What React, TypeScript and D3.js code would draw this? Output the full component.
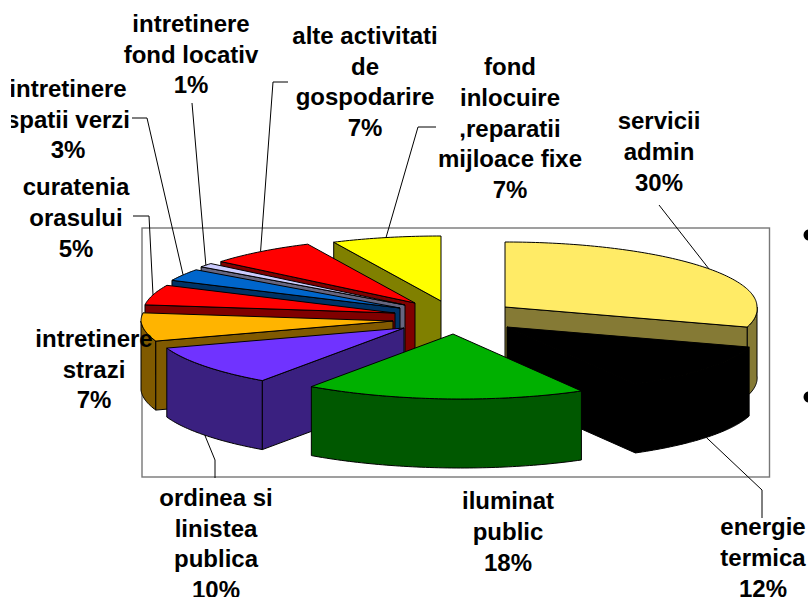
import React from "react";
import * as d3 from "d3";

const labels = [
  ["servicii", "admin", "30%"],
  ["energie", "termica", "12%"],
  ["iluminat", "public", "18%"],
  ["ordinea si", "linistea", "publica", "10%"],
  ["intretinere", "strazi", "7%"],
  ["curatenia", "orasului", "5%"],
  ["intretinere", "spatii verzi", "3%"],
  ["intretinere", "fond locativ", "1%"],
  ["alte activitati", "de", "gospodarire", "7%"],
  ["fond", "inlocuire", ",reparatii", "mijloace fixe", "7%"],
];
const values = [30, 12, 18, 10, 7, 5, 3, 1, 7, 7];
const topColors = ["#FFEB66", "#000000", "#00B000", "#7033FF", "#FFB400", "#FF0000", "#0066CC", "#CCCCFF", "#FF0000", "#FFFF00"];
const sideColors = ["#857A35", "#000000", "#005800", "#3A2080", "#805A00", "#800000", "#003366", "#666680", "#800000", "#808000"];
const explodeX = [0, 2, -52, -101, -112, -110, -105, -100, -90, -64];
const explodeY = [0, 20, 27, 21, 14, 6, 1, -2, -4, -6];
const drawOrder = [9, 8, 7, 6, 5, 4, 3, 0, 1, 2];

const labelCenterX = [659, 763, 508, 216, 94, 76, 68, 191, 365, 510];
const labelFirstY = [129, 535, 509, 506, 347, 195, 97, 32, 44, 75];
const lineStep = [31, 31, 31, 30.5, 30.5, 31, 30.5, 30.5, 30.7, 30.8];
const leaderElbows: number[][][] = [
  [[659, 205]],
  [[762, 490], [762, 518]],
  [],
  [[215, 460], [215, 478]],
  [],
  [[149, 216], [133, 216]],
  [[147, 118], [132, 118]],
  [[192, 103]],
  [[273, 82], [288, 82]],
  [[418, 127], [436, 127]],
];

const CX = 505, CY = 307, RX = 252, RY = 65, DEPTH = 69, FRONT_SHEAR = 8;
const px = d3.scaleLinear().domain([-1, 1]).range([-RX, RX]);
const py = d3.scaleLinear().domain([-1, 1]).range([RY, -RY]);
const line = d3.line();
const deg = Math.PI / 180;

function arcPts(i: number, a0: number, a1: number, dy = 0): [number, number][] {
  const n = Math.max(2, Math.ceil((a1 - a0) / deg));
  return d3.range(n + 1).map((k) => {
    const a = a0 + ((a1 - a0) * k) / n;
    const shear = FRONT_SHEAR * Math.max(0, -Math.cos(a));
    return [CX + explodeX[i] + px(Math.sin(a)) + shear, CY + explodeY[i] + py(Math.cos(a)) + dy] as [number, number];
  });
}

export default function App() {
  const arcs = d3.pie<number>().sort(null).value((d) => d)(values);
  const apex = (i: number, dy = 0): [number, number] => [CX + explodeX[i], CY + explodeY[i] + dy];
  const cut = (i: number, a: number) => {
    const r = arcPts(i, a, a)[0];
    return line([apex(i), r, [r[0], r[1] + DEPTH], apex(i, DEPTH)]) + "Z";
  };
  return (
    <svg width={808} height={597} style={{ position: "absolute", left: 0, top: 0, display: "block", background: "#fff" }}>
      <defs>
        <clipPath id="clip"><rect x={11} y={0} width={797} height={597} /></clipPath>
      </defs>
      <rect x={142} y={228} width={627.5} height={249} fill="none" stroke="#777" strokeWidth={1.4} />
      {drawOrder.map((i) => {
        const { startAngle: s, endAngle: e } = arcs[i];
        const f0 = Math.max(s, Math.PI / 2), f1 = Math.min(e, (3 * Math.PI) / 2);
        const top = arcPts(i, s, e);
        return (
          <g key={i} stroke="#000" strokeWidth={1} strokeLinejoin="round">
            {f1 > f0 && (
              <path fill={sideColors[i]} d={line([...arcPts(i, f0, f1), ...arcPts(i, f0, f1, DEPTH).reverse()]) + "Z"} />
            )}
            {s >= Math.PI && <path fill={sideColors[i]} d={cut(i, s)} />}
            {e <= Math.PI && <path fill={sideColors[i]} d={cut(i, e)} />}
            <path fill={topColors[i]} d={line([apex(i), ...top]) + "Z"} />
          </g>
        );
      })}
      {arcs.map((a, i) => {
        const elbows = leaderElbows[i];
        if (!elbows.length) return null;
        const mid = (a.startAngle + a.endAngle) / 2;
        const p = arcPts(i, mid, mid)[0];
        const front = Math.cos(mid) < 0;
        const pts: [number, number][] = [[p[0], p[1] + (front ? DEPTH : 0)], ...(elbows as [number, number][])];
        return <path key={i} d={line(pts)!} fill="none" stroke="#000" strokeWidth={1} />;
      })}
      <g clipPath="url(#clip)" fontFamily="'Liberation Sans', Arial, sans-serif" fontWeight="bold" fontSize={24} textAnchor="middle" fill="#000">
        {labels.map((ls, i) => (
          <text key={i} x={labelCenterX[i]}>
            {ls.map((t, j) => (
              <tspan key={j} x={labelCenterX[i]} y={labelFirstY[i] + j * lineStep[i]}>{t}</tspan>
            ))}
          </text>
        ))}
      </g>
      <circle cx={809} cy={235} r={5.5} fill="#000" />
      <circle cx={809} cy={397} r={5.5} fill="#000" />
    </svg>
  );
}
